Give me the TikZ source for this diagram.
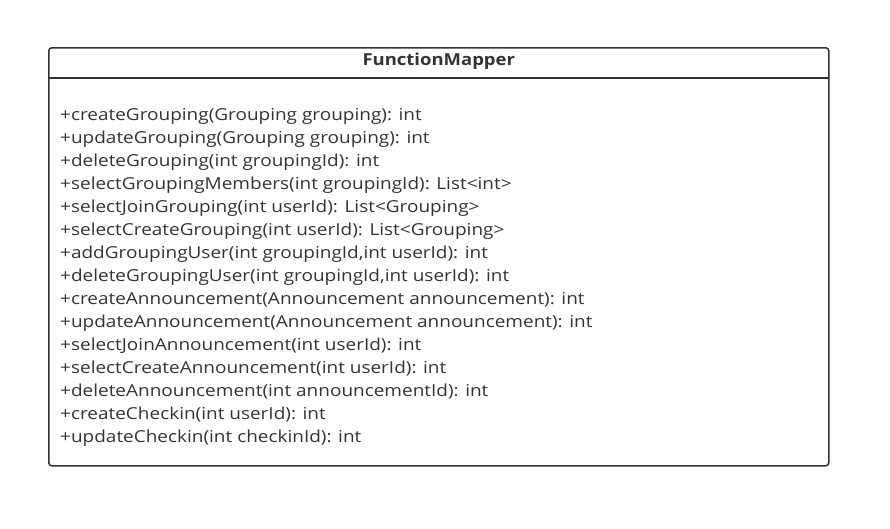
\documentclass[tikz,border=0pt]{standalone}
\usepackage{fontspec}
\setmainfont{Open Sans}
\usepackage{xcolor}
\usetikzlibrary{positioning,calc}

\definecolor{umlgray}{HTML}{333333}

\begin{document}
\begin{tikzpicture}[x=1pt, y=-1pt,
    classbox/.style={rectangle, draw=umlgray, line width=1.5pt, rounded corners=3pt, minimum width=780pt, minimum height=418pt, inner sep=0pt, anchor=north west},
    classtitle/.style={rectangle, minimum width=780pt, minimum height=30.5pt, inner sep=0pt, anchor=north, font=\fontsize{16.5}{19}\selectfont\bfseries\addfontfeature{FakeStretch=1.12}, text=umlgray},
    members/.style={align=left, anchor=north west, inner sep=0pt, font=\fontsize{16.5}{23}\selectfont\addfontfeature{FakeStretch=1.15}, text=umlgray}
]
\useasboundingbox (0,0) rectangle (890,528);

% Class box
\node[classbox] (mapper) at (48,47) {};
\node[classtitle, yshift=1.5pt] (title) at (mapper.north) {FunctionMapper};
\draw[umlgray, line width=1.5pt] ([yshift=-1.5pt]title.south west) -- ([yshift=-1.5pt]title.south east);

% Operations
\node[members] (ops) at (60,108) {%
+createGrouping(Grouping grouping): int\\
+updateGrouping(Grouping grouping): int\\
+deleteGrouping(int groupingId): int\\
+selectGroupingMembers(int groupingId): List<int>\\
+selectJoinGrouping(int userId): List<Grouping>\\
+selectCreateGrouping(int userId): List<Grouping>\\
+addGroupingUser(int groupingId,int userId): int\\
+deleteGroupingUser(int groupingId,int userId): int\\
+createAnnouncement(Announcement announcement): int\\
+updateAnnouncement(Announcement announcement): int\\
+selectJoinAnnouncement(int userId): int\\
+selectCreateAnnouncement(int userId): int\\
+deleteAnnouncement(int announcementId): int\\
+createCheckin(int userId): int\\
+updateCheckin(int checkinId): int};
\end{tikzpicture}
\end{document}
